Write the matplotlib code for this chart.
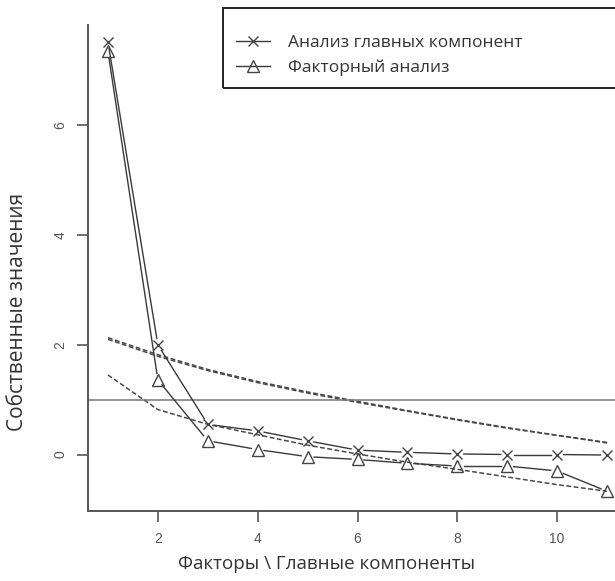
import numpy as np
import matplotlib
matplotlib.use('Agg')
from matplotlib import pyplot as plt
from matplotlib.lines import Line2D
from matplotlib.patches import Rectangle

plt.rcParams['font.family'] = ['Liberation Sans', 'DejaVu Sans']

# данные
factors = np.arange(1, 12)
pcValues = [7.52, 2.0, 0.55, 0.43, 0.25, 0.08, 0.04, 0.01, 0.0, 0.0, -0.01]
faValues = [7.35, 1.36, 0.25, 0.09, -0.04, -0.09, -0.16, -0.21, -0.21, -0.3, -0.67]
pcSim = [2.13, 1.82, 1.55, 1.33, 1.14, 0.97, 0.8, 0.64, 0.49, 0.35, 0.22]
pcResamp = [2.1, 1.79, 1.53, 1.31, 1.12, 0.95, 0.79, 0.63, 0.48, 0.35, 0.21]
faSim = [1.45, 0.82, 0.55, 0.36, 0.17, 0.01, -0.14, -0.27, -0.41, -0.55, -0.67]
legendLabels = ['Анализ главных компонент', 'Факторный анализ']

lineColor = '#3a3a3a'
axisColor = '#555555'
labelFont = ['Open Sans', 'DejaVu Sans']

fig = plt.figure(figsize=(6.15, 5.81), dpi=100)
ax = fig.add_axes([88/615, 70/581, 539/615, 486/581])
ax.set_xlim(0.6, 11.4)
ax.set_ylim(-1.03, 7.83)


def gappedLine(ax, x, y, gap=6.5, **kw):
    # как type="b" в R: линия с разрывами у маркеров
    pts = ax.transData.transform(np.column_stack([x, y]))
    inv = ax.transData.inverted()
    for i in range(len(pts) - 1):
        d = pts[i + 1] - pts[i]
        L = np.hypot(*d)
        if L <= 2 * gap:
            continue
        u = d / L
        a = inv.transform(pts[i] + u * gap)
        b = inv.transform(pts[i + 1] - u * gap)
        ax.plot([a[0], b[0]], [a[1], b[1]], **kw)


dashKw = dict(color='#4a4a4a', lw=1.1, linestyle=(0, (3.2, 1.6)))
ax.plot(factors, pcSim, **dashKw)
ax.plot(factors, pcResamp, **dashKw)
ax.plot(factors, faSim, **dashKw)

ax.axhline(1, color='#777777', lw=1.1)

gappedLine(ax, factors, pcValues, color=lineColor, lw=1.0)
gappedLine(ax, factors, faValues, color=lineColor, lw=1.0)
ax.plot(factors, pcValues, linestyle='none', marker='x', ms=7, mew=1.0, color='#444444')
ax.plot(factors, faValues, linestyle='none', marker='^', ms=8, mew=1.0,
        mfc='none', mec='#444444')

for s in ['top', 'right']:
    ax.spines[s].set_visible(False)
for s in ['left', 'bottom']:
    ax.spines[s].set_color(axisColor)
    ax.spines[s].set_linewidth(1.4)

ax.set_xticks([2, 4, 6, 8, 10])
ax.set_yticks([0, 2, 4, 6])
ax.tick_params(axis='both', direction='out', length=8, width=1.2, color=axisColor,
               labelsize=10, labelcolor='#555555', pad=7)
for lab in ax.get_yticklabels():
    lab.set_rotation(90)
    lab.set_va('center')

ax.set_xlabel('Факторы \\ Главные компоненты', fontsize=13.5, color='#333333',
              family=labelFont)
ax.set_ylabel('Собственные значения', fontsize=15, color='#333333', family=labelFont)
ax.xaxis.set_label_coords(0.442, -0.09)
ax.yaxis.set_label_coords(-0.112, 0.41)

# легенда
handles = [Line2D([], [], color=lineColor, lw=1.0, marker='x', ms=7, mec='#444444'),
           Line2D([], [], color=lineColor, lw=1.0, marker='^', ms=8, mfc='none', mec='#444444')]
leg = fig.legend(handles, legendLabels, loc='upper left', bbox_to_anchor=(220/615, 1 - 19/581),
                 frameon=False, handlelength=2.0, handletextpad=1.0,
                 labelspacing=0.5, prop={'family': labelFont, 'size': 12.5})
for t in leg.get_texts():
    t.set_color('#333333')
fig.add_artist(Rectangle((223/615, 1 - 88/581), 420/615, 80/581, transform=fig.transFigure,
                         fill=False, ec='#222222', lw=1.4, clip_on=False))

fig.savefig('out.png', dpi=100)
